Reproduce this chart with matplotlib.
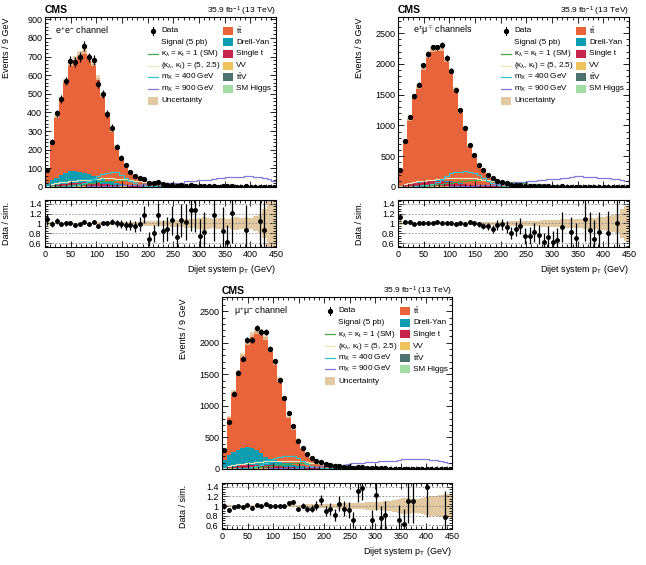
import numpy as np
import matplotlib.pyplot as plt
from matplotlib.lines import Line2D
from matplotlib.patches import Rectangle
from matplotlib.ticker import MultipleLocator, FixedLocator, FuncFormatter

plt.rcParams['font.family'] = ['Liberation Sans', 'DejaVu Sans']
plt.rcParams['mathtext.fontset'] = 'custom'
plt.rcParams['mathtext.rm'] = 'Liberation Sans'
plt.rcParams['mathtext.it'] = 'Liberation Sans:italic'
plt.rcParams['mathtext.bf'] = 'Liberation Sans:bold'

nan = np.nan
edges = np.arange(0, 451, 9)

# ---------------- e+e- channel ----------------
data_ee = [93, 244, 396, 470, 569, 676, 670, 699, 758, 695,
           681, 553, 499, 392, 319, 217, 157, 116, 82, 61,
           50, 45, 21, 20, 25, 14, 13, 13, 7, 10,
           8, 9, 8, 5, 4, 3, 5, 2, 3, 3,
           4, 2, 1, 3, 2, 1, 2, 1, 1, 1]
ratio_ee = [1.09, 0.99, 1.05, 0.99, 1.00, 1.02, 0.97, 0.98, 1.04, 0.99,
            1.03, 0.94, 1.01, 1.00, 1.04, 1.00, 0.99, 0.96, 0.97, 0.94,
            0.99, 1.18, 0.68, 0.80, 1.18, 0.84, 0.88, 1.07, 0.73, 1.07,
            1.03, 1.28, 1.28, 0.75, 0.82, nan, 1.18, nan, 0.85, 0.62,
            1.21, nan, nan, 0.87, nan, nan, 1.06, 0.86, nan, nan]
ttbar_ee = [66, 208, 327, 411, 495, 580, 605, 631, 655, 635,
            601, 537, 452, 358, 279, 196, 143, 108, 74, 56,
            44, 32, 26, 21, 17.7, 14.2, 12.5, 9.8, 8.0, 7.2,
            6.4, 5.5, 4.7, 4.8, 3.9, 4.0, 3.6, 3.2, 2.9, 2.6,
            2.4, 2.2, 2.0, 1.8, 1.7, 1.5, 1.4, 1.3, 1.2, 1.1]
dy_ee = [16, 30, 38, 48, 55, 62, 62, 58, 50, 44,
         38, 30, 24, 19, 15, 11, 8, 6, 5, 4,
         3, 2.5, 2, 1.6, 1.3, 1.1, 0.9, 0.8, 0.7, 0.6,
         0.5, 0.45, 0.4, 0.35, 0.3, 0.3, 0.25, 0.25, 0.2, 0.2,
         0.2, 0.15, 0.15, 0.15, 0.1, 0.1, 0.1, 0.1, 0.1, 0.1]
st_ee = [2, 5, 8, 11, 13, 15, 16, 17, 17, 16,
         15, 14, 12, 10, 8, 6.5, 5, 4, 3, 2.4,
         2, 1.6, 1.3, 1.1, 0.9, 0.8, 0.7, 0.6, 0.5, 0.45,
         0.4, 0.35, 0.3, 0.3, 0.25, 0.25, 0.2, 0.2, 0.2, 0.15,
         0.15, 0.15, 0.1, 0.1, 0.1, 0.1, 0.1, 0.1, 0.1, 0.1]
vv_ee = [1, 2, 3, 3.5, 4, 4.5, 5, 5, 5, 5,
         5, 4.5, 4, 3.5, 3, 2.6, 2.2, 1.9, 1.6, 1.4,
         1.2, 1, 0.9, 0.8, 0.7, 0.6, 0.55, 0.5, 0.45, 0.4,
         0.35, 0.3, 0.3, 0.25, 0.25, 0.2, 0.2, 0.2, 0.15, 0.15,
         0.15, 0.1, 0.1, 0.1, 0.1, 0.1, 0.1, 0.1, 0.1, 0.1]
ttv_ee = [0.3, 0.5, 0.8, 1, 1.2, 1.4, 1.5, 1.6, 1.7, 1.7,
          1.7, 1.6, 1.5, 1.4, 1.2, 1, 0.9, 0.8, 0.7, 0.6,
          0.5, 0.45, 0.4, 0.35, 0.3, 0.3, 0.25, 0.25, 0.2, 0.2,
          0.2, 0.15, 0.15, 0.15, 0.1, 0.1, 0.1, 0.1, 0.1, 0.1,
          0.1, 0.1, 0.1, 0.1, 0.1, 0.1, 0.1, 0.1, 0.1, 0.1]
higgs_ee = [0.1, 0.2, 0.3, 0.3, 0.4, 0.4, 0.5, 0.5, 0.5, 0.5,
            0.5, 0.5, 0.4, 0.4, 0.3, 0.3, 0.3, 0.2, 0.2, 0.2,
            0.2, 0.15, 0.15, 0.1, 0.1, 0.1, 0.1, 0.1, 0.1, 0.1,
            0.05, 0.05, 0.05, 0.05, 0.05, 0.05, 0.05, 0.05, 0.05, 0.05,
            0.05, 0.05, 0.05, 0.05, 0.05, 0.05, 0.05, 0.05, 0.05, 0.05]
unc_ee = [0.03, 0.025, 0.02, 0.02, 0.02, 0.02, 0.02, 0.02, 0.02, 0.02,
          0.02, 0.025, 0.025, 0.025, 0.03, 0.03, 0.03, 0.035, 0.035, 0.04,
          0.04, 0.045, 0.05, 0.05, 0.055, 0.06, 0.06, 0.07, 0.08, 0.08,
          0.09, 0.1, 0.1, 0.12, 0.14, 0.12, 0.1, 0.12, 0.11, 0.1,
          0.12, 0.13, 0.12, 0.14, 0.12, 0.15, 0.2, 0.3, 0.5, 0.6]
sm_ee = [0.5, 1.5, 3, 5, 7, 9, 12, 15, 18, 21,
         24, 27, 30, 32, 34, 35, 36, 36, 35, 34,
         33, 31, 29, 27, 25, 23, 21, 19, 17, 15,
         13, 12, 10, 9, 8, 7, 6, 5, 4.5, 4,
         3.5, 3, 2.6, 2.2, 1.9, 1.6, 1.4, 1.2, 1, 0.9]
k5_ee = [3, 14, 20, 25, 28, 31, 33, 35, 37, 40,
         43, 45, 46, 46, 46, 45, 44, 41, 37, 34,
         31, 28, 23, 19, 16, 13, 11, 9.5, 8, 7,
         6, 5, 4.3, 3.7, 3.1, 2.6, 2.2, 1.9, 1.6, 1.4,
         1.2, 1, 0.85, 0.7, 0.6, 0.5, 0.45, 0.4, 0.35, 0.3]
x400_ee = [0.3, 0.7, 1.5, 2.5, 4, 6, 9, 13, 19, 30,
           45, 60, 70, 76, 80, 78, 66, 50, 33, 20,
           12, 7, 4.5, 3, 2, 1.5, 1.1, 0.8, 0.6, 0.5,
           0.4, 0.3, 0.25, 0.2, 0.2, 0.15, 0.1, 0.1, 0.1, 0.1,
           0.1, 0.1, 0.1, 0.1, 0.1, 0.1, 0.1, 0.1, 0.1, 0.1]
x900_ee = [0, 0, 0.5, 0.5, 1, 1, 1.5, 2, 2.5, 3,
           3.5, 4, 5, 6, 7, 8, 9, 10, 11, 12,
           13, 14, 15, 16, 17, 18, 19, 20, 21, 22,
           30, 32, 33, 36, 38, 40, 42, 46, 50, 52,
           54, 56, 56, 58, 57, 55, 52, 48, 42, 30]

# ---------------- e+mu- channels ----------------
data_em = [281, 741, 1131, 1472, 1661, 1975, 2165, 2267, 2267, 2311,
           2094, 1889, 1569, 1245, 963, 687, 514, 363, 271, 189,
           141, 103, 78, 57, 40, 37, 33, 22, 19, 18,
           15, 10, 10, 8, 8, 9, 5, 7, 5, 4,
           6, 5, 3, 4, 2, 3, 2, 3, 1, 1]
ratio_em = [1.13, 1.04, 1.03, 0.99, 1.02, 1.02, 1.01, 1.01, 1.03, 1.01,
            1.01, 1.00, 0.99, 1.01, 0.99, 1.03, 1.00, 0.98, 0.95, 0.94,
            0.89, 0.97, 0.98, 0.92, 0.80, 0.89, 0.95, 0.75, 0.75, 0.82,
            0.77, 0.62, 0.72, 0.63, 0.67, 0.93, nan, 0.82, 0.70, nan,
            1.10, 0.86, 0.68, 0.82, nan, 0.80, nan, 1.01, nan, nan]
ttbar_em = [233, 667, 1034, 1406, 1539, 1835, 2035, 2134, 2150, 2150,
            1973, 1799, 1508, 1169, 921, 628, 482, 345, 265, 185,
            145, 96, 72, 55, 44, 37, 30.6, 25, 21.6, 19,
            16.3, 14, 12.3, 11, 9.8, 8.5, 7.6, 6.8, 6.1, 5.5,
            5.0, 4.5, 4.1, 3.7, 3.4, 3.1, 2.8, 2.6, 2.3, 2.1]
dy_em = [5, 12, 15, 17, 18, 18, 17, 16, 15, 13,
         12, 10, 8, 7, 6, 5, 4, 3, 2.5, 2,
         1.6, 1.3, 1, 0.8, 0.7, 0.6, 0.5, 0.45, 0.4, 0.35,
         0.3, 0.3, 0.25, 0.25, 0.2, 0.2, 0.2, 0.15, 0.15, 0.15,
         0.1, 0.1, 0.1, 0.1, 0.1, 0.1, 0.1, 0.1, 0.1, 0.1]
st_em = [8, 25, 38, 50, 56, 66, 73, 76, 75, 76,
         70, 64, 55, 44, 35, 25, 20, 15, 12, 9,
         7, 5, 4, 3.2, 2.6, 2.2, 1.8, 1.5, 1.3, 1.1,
         1, 0.9, 0.8, 0.7, 0.6, 0.5, 0.45, 0.4, 0.35, 0.3,
         0.3, 0.25, 0.25, 0.2, 0.2, 0.2, 0.15, 0.15, 0.15, 0.1]
vv_em = [2, 5, 7, 9, 10, 11, 12, 12, 12, 12,
         11, 10, 9, 8, 7, 6, 5, 4.3, 3.8, 3.3,
         2.9, 2.5, 2.2, 1.9, 1.7, 1.5, 1.3, 1.2, 1.1, 1,
         0.9, 0.8, 0.7, 0.65, 0.6, 0.55, 0.5, 0.45, 0.4, 0.4,
         0.35, 0.35, 0.3, 0.3, 0.25, 0.25, 0.2, 0.2, 0.2, 0.2]
ttv_em = [1, 2, 3, 3.5, 4, 4.5, 5, 5, 5, 5,
          5, 4.5, 4, 3.5, 3, 2.6, 2.2, 1.9, 1.6, 1.4,
          1.2, 1, 0.9, 0.8, 0.7, 0.6, 0.55, 0.5, 0.45, 0.4,
          0.35, 0.3, 0.3, 0.25, 0.25, 0.2, 0.2, 0.2, 0.15, 0.15,
          0.15, 0.1, 0.1, 0.1, 0.1, 0.1, 0.1, 0.1, 0.1, 0.1]
higgs_em = [0.3, 0.6, 1, 1.2, 1.3, 1.5, 1.6, 1.7, 1.7, 1.6,
            1.5, 1.4, 1.2, 1, 0.9, 0.8, 0.7, 0.6, 0.5, 0.45,
            0.4, 0.35, 0.3, 0.3, 0.25, 0.2, 0.2, 0.2, 0.15, 0.15,
            0.1, 0.1, 0.1, 0.1, 0.1, 0.1, 0.1, 0.1, 0.1, 0.1,
            0.1, 0.1, 0.1, 0.1, 0.1, 0.1, 0.1, 0.1, 0.1, 0.1]
unc_em = [0.03, 0.02, 0.02, 0.02, 0.02, 0.02, 0.02, 0.02, 0.02, 0.02,
          0.02, 0.02, 0.02, 0.025, 0.025, 0.025, 0.03, 0.03, 0.03, 0.03,
          0.035, 0.035, 0.04, 0.04, 0.045, 0.045, 0.05, 0.05, 0.055, 0.06,
          0.06, 0.065, 0.07, 0.08, 0.08, 0.09, 0.09, 0.1, 0.1, 0.1,
          0.11, 0.12, 0.12, 0.13, 0.14, 0.15, 0.18, 0.2, 0.3, 0.35]
sm_em = [1, 3, 6, 10, 15, 21, 28, 36, 44, 53,
         62, 72, 82, 92, 100, 106, 110, 112, 112, 110,
         106, 101, 95, 88, 81, 74, 67, 61, 55, 49,
         44, 39, 34, 30, 26, 23, 20, 17, 15, 13,
         11, 9.5, 8, 7, 6, 5, 4.3, 3.7, 3.2, 2.8]
k5_em = [10, 49, 70, 85, 95, 105, 112, 119, 128, 138,
         143, 145, 147, 148, 147, 146, 143, 135, 119, 108,
         100, 92, 75, 62, 54, 45, 38, 32, 27, 23,
         20, 17, 14.5, 12.5, 10.5, 9, 7.5, 6.5, 5.5, 4.7,
         4, 3.4, 2.9, 2.5, 2.1, 1.8, 1.5, 1.3, 1.1, 1.0]
x400_em = [1, 3, 6, 10, 16, 25, 38, 55, 85, 130,
           180, 220, 240, 250, 254, 248, 235, 200, 150, 100,
           62, 38, 24, 15, 10, 7, 5, 4, 3, 2,
           1.5, 1.2, 1, 0.8, 0.6, 0.5, 0.4, 0.3, 0.3, 0.2,
           0.2, 0.2, 0.1, 0.1, 0.1, 0.1, 0.1, 0.1, 0.1, 0.1]
x900_em = [0, 0.5, 1, 1.5, 2, 3, 4, 5, 6, 7,
           8, 10, 12, 14, 16, 19, 22, 26, 30, 35,
           40, 49, 55, 62, 70, 76, 82, 88, 95, 100,
           108, 115, 122, 130, 138, 145, 152, 165, 173, 173,
           165, 160, 155, 148, 146, 142, 138, 130, 115, 92]

# ---------------- mu+mu- channel ----------------
data_mm = [300, 746, 1196, 1525, 1746, 2050, 2045, 2234, 2170, 2174,
           1909, 1707, 1406, 1120, 880, 680, 442, 333, 230, 169,
           131, 111, 73, 62, 44, 47, 36, 29, 19, 30,
           28, 12, 11, 16, 9, 8, 4, 5, 5, 4,
           6, 6, 2, 3, 5, 2, 1, 4, 2, 1]
ratio_mm = [1.00, 0.91, 0.98, 0.99, 0.97, 1.02, 0.96, 1.02, 1.00, 1.04,
            1.01, 1.01, 0.99, 1.00, 1.06, 1.08, 0.94, 1.01, 0.94, 0.94,
            1.01, 1.13, 0.89, 0.94, 0.82, 1.05, 0.94, 0.92, 0.71, 1.32,
            1.38, nan, 0.71, 1.22, 0.75, 0.82, nan, nan, 0.71, 0.62,
            1.10, 1.10, nan, nan, 1.39, nan, nan, nan, 0.77, nan]
ttbar_mm = [150, 599, 946, 1240, 1470, 1662, 1800, 1890, 1917, 1895,
            1730, 1548, 1304, 1020, 740, 561, 415, 285, 210, 152,
            107, 80, 67, 54, 44, 37, 31, 26, 22, 18.7,
            16.3, 13.7, 12.1, 10.4, 9.1, 7.9, 7.1, 6.2, 5.5, 4.9,
            4.4, 3.9, 3.5, 3.2, 2.9, 2.6, 2.3, 2.0, 1.9, 1.7]
dy_mm = [140, 196, 236, 252, 274, 284, 261, 229, 183, 128,
         98, 87, 69, 61, 59, 45, 36, 30, 23, 18,
         14, 11, 9, 7, 5.5, 4.5, 3.6, 3, 2.5, 2,
         1.7, 1.5, 1.3, 1.1, 1, 0.9, 0.8, 0.7, 0.6, 0.55,
         0.5, 0.45, 0.4, 0.35, 0.3, 0.3, 0.25, 0.25, 0.2, 0.2]
st_mm = [5, 15, 25, 33, 40, 46, 50, 52, 51, 49,
         45, 40, 34, 27, 21, 16, 12, 9, 7, 5.5,
         4.5, 3.6, 3, 2.5, 2, 1.7, 1.4, 1.2, 1, 0.9,
         0.8, 0.7, 0.6, 0.55, 0.5, 0.45, 0.4, 0.35, 0.3, 0.3,
         0.25, 0.25, 0.2, 0.2, 0.2, 0.15, 0.15, 0.15, 0.1, 0.1]
vv_mm = [4, 7, 9, 10, 11, 12, 12, 12, 12, 11,
         10, 9, 8, 7, 6, 5, 4.3, 3.7, 3.2, 2.8,
         2.4, 2.1, 1.8, 1.6, 1.4, 1.2, 1.1, 1, 0.9, 0.8,
         0.7, 0.65, 0.6, 0.55, 0.5, 0.45, 0.4, 0.4, 0.35, 0.35,
         0.3, 0.3, 0.25, 0.25, 0.2, 0.2, 0.2, 0.2, 0.15, 0.15]
ttv_mm = [1, 2, 3, 3.5, 4, 4.5, 5, 5, 5, 5,
          5, 4.5, 4, 3.5, 3, 2.6, 2.2, 1.9, 1.6, 1.4,
          1.2, 1, 0.9, 0.8, 0.7, 0.6, 0.55, 0.5, 0.45, 0.4,
          0.35, 0.3, 0.3, 0.25, 0.25, 0.2, 0.2, 0.2, 0.15, 0.15,
          0.15, 0.1, 0.1, 0.1, 0.1, 0.1, 0.1, 0.1, 0.1, 0.1]
higgs_mm = [0.3, 0.6, 1, 1.2, 1.3, 1.5, 1.6, 1.7, 1.7, 1.6,
            1.5, 1.4, 1.2, 1, 0.9, 0.8, 0.7, 0.6, 0.5, 0.45,
            0.4, 0.35, 0.3, 0.3, 0.25, 0.2, 0.2, 0.2, 0.15, 0.15,
            0.1, 0.1, 0.1, 0.1, 0.1, 0.1, 0.1, 0.1, 0.1, 0.1,
            0.1, 0.1, 0.1, 0.1, 0.1, 0.1, 0.1, 0.1, 0.1, 0.1]
unc_mm = [0.03, 0.02, 0.02, 0.02, 0.02, 0.02, 0.02, 0.02, 0.02, 0.02,
          0.02, 0.025, 0.025, 0.025, 0.03, 0.03, 0.03, 0.03, 0.035, 0.035,
          0.04, 0.04, 0.045, 0.05, 0.05, 0.055, 0.06, 0.06, 0.065, 0.07,
          0.07, 0.08, 0.08, 0.09, 0.09, 0.1, 0.1, 0.12, 0.14, 0.16,
          0.16, 0.15, 0.15, 0.16, 0.18, 0.2, 0.2, 0.22, 0.25, 0.25]
sm_mm = [1, 3, 5, 8, 12, 17, 23, 30, 37, 45,
         53, 61, 69, 77, 84, 90, 95, 98, 100, 99,
         97, 93, 88, 82, 75, 68, 61, 55, 49, 44,
         39, 34, 30, 26, 23, 20, 17, 15, 13, 11,
         9.5, 8, 7, 6, 5, 4.3, 3.7, 3.2, 2.8, 2.4]
k5_mm = [8, 42, 62, 76, 86, 95, 102, 108, 116, 124,
         129, 131, 132, 133, 132, 131, 128, 120, 108, 98,
         90, 82, 68, 56, 48, 40, 34, 29, 24, 21,
         18, 15, 13, 11, 9, 8, 7, 6, 5, 4,
         3.5, 3, 2.5, 2, 1.8, 1.5, 1.3, 1.1, 1, 0.9]
x400_mm = [1, 2, 5, 8, 13, 20, 30, 45, 65, 100,
           140, 175, 195, 205, 205, 200, 170, 125, 85, 50,
           30, 18, 11, 7, 5, 4, 3, 2, 1.5, 1,
           0.8, 0.6, 0.5, 0.4, 0.3, 0.3, 0.2, 0.2, 0.2, 0.1,
           0.1, 0.1, 0.1, 0.1, 0.1, 0.1, 0.1, 0.1, 0.1, 0.1]
x900_mm = [0, 0.5, 1, 1.5, 2, 2.5, 3.5, 4.5, 5.5, 6.5,
           8, 9.5, 11, 13, 15, 17, 20, 23, 27, 31,
           36, 41, 47, 53, 58, 63, 70, 78, 88, 95,
           100, 106, 112, 118, 124, 126, 127, 128, 150, 153,
           156, 158, 158, 157, 152, 145, 135, 122, 108, 90]

# colours
c_ttbar, c_dy, c_st, c_vv, c_ttv, c_h = '#e9643a', '#0f9db1', '#c8234a', '#efc25d', '#4d7371', '#a2dca4'
c_unc = '#e3c9a2'
c_sm, c_k5, c_x400, c_x900 = '#46a84a', '#ebe7b8', '#38c5c9', '#7f7ad8'

W, H = 646, 565
fig = plt.figure(figsize=(W / 100, H / 100), dpi=100)


def frame(l, t, r, b):
    return [l / W, 1 - b / H, (r - l) / W, (b - t) / H]


def fx(x):
    return x / W


def fy(y):
    return 1 - y / H


def ratio_fmt(v, pos):
    return '1' if abs(v - 1) < 1e-6 else f'{v:.1f}'


def draw_legend(L, T):
    rows = [T + 14 + 11.67 * i for i in range(7)]
    fs = 5.9
    # column 1
    fig.add_artist(Line2D([fx(L + 108)] * 2, [fy(rows[0] - 4), fy(rows[0] + 4)], color='k', lw=0.8))
    fig.add_artist(Line2D([fx(L + 108)], [fy(rows[0])], marker='o', ms=2.8, color='k', lw=0))
    fig.text(fx(L + 116), fy(rows[0]), 'Data', fontsize=fs, va='center')
    fig.text(fx(L + 116), fy(rows[1]), 'Signal (5 pb)', fontsize=fs, va='center')
    sig_labels = [(c_sm, r'κ$_\mathregular{λ}$ = κ$_\mathregular{t}$ = 1 (SM)'),
                  (c_k5, r'(κ$_\mathregular{λ}$, κ$_\mathregular{t}$) = (5, 2.5)'),
                  (c_x400, r'm$_\mathregular{X}$ = 400 GeV'),
                  (c_x900, r'm$_\mathregular{X}$ = 900 GeV')]
    for i, (col, lab) in enumerate(sig_labels):
        y = rows[2 + i]
        fig.add_artist(Line2D([fx(L + 103), fx(L + 113)], [fy(y)] * 2, color=col, lw=0.9))
        fig.text(fx(L + 116), fy(y), lab, fontsize=fs, va='center')
    fig.add_artist(Rectangle((fx(L + 103), fy(rows[6] + 4)), 10 / W, 8 / H,
                             transform=fig.transFigure, color=c_unc, lw=0))
    fig.text(fx(L + 116), fy(rows[6]), 'Uncertainty', fontsize=fs, va='center')
    # column 2
    bkg_labels = [(c_ttbar, r'$\mathregular{t\bar{t}}$'), (c_dy, 'Drell-Yan'), (c_st, 'Single t'),
                  (c_vv, 'VV'), (c_ttv, r'$\mathregular{t\bar{t}}$V'), (c_h, 'SM Higgs')]
    for i, (col, lab) in enumerate(bkg_labels):
        y = rows[i]
        fig.add_artist(Rectangle((fx(L + 178), fy(y + 4)), 10 / W, 8 / H,
                                 transform=fig.transFigure, color=col, lw=0))
        fig.text(fx(L + 191), fy(y), lab, fontsize=fs, va='center')


def draw_channel(main_px, ratio_px, ymax, ymajor, yminor, chan_label, label_dx,
                 data, ratio, unc, stack, signals):
    L, T, R, B = main_px
    ax = fig.add_axes(frame(*main_px))
    rx = fig.add_axes(frame(*ratio_px))
    centers = edges[:-1] + 4.5
    data = np.array(data, float)
    ratio = np.array(ratio, float)
    unc = np.array(unc, float)

    base = np.zeros(len(centers))
    for vals, col in stack:
        top = base + np.array(vals, float)
        ax.stairs(top, edges, baseline=base, fill=True, color=col, lw=0)
        base = top
    mc = base
    ax.stairs(mc * (1 + unc), edges, baseline=mc * (1 - unc), fill=True, color=c_unc, alpha=0.8, lw=0)
    for vals, col in signals:
        ax.stairs(vals, edges, baseline=None, color=col, lw=0.9)
    m = data > 0
    ax.errorbar(centers[m], data[m], yerr=np.sqrt(data[m]), fmt='o', ms=2.8, color='k',
                elinewidth=0.9, capsize=0)

    ax.set_xlim(0, 450)
    ax.set_ylim(0, ymax)
    ax.xaxis.set_major_locator(MultipleLocator(50))
    ax.xaxis.set_minor_locator(MultipleLocator(10))
    ax.yaxis.set_major_locator(MultipleLocator(ymajor))
    ax.yaxis.set_minor_locator(MultipleLocator(yminor))
    ax.tick_params(which='both', direction='in', top=True, right=True, labelbottom=False,
                   labelsize=6.5, width=0.6, pad=2)
    ax.tick_params(which='major', length=4.5)
    ax.tick_params(which='minor', length=2.2)

    # ratio panel
    rx.stairs(1 + unc, edges, baseline=1 - unc, fill=True, color=c_unc, lw=0)
    for g in [0.6, 0.8, 1.0, 1.2, 1.4]:
        rx.axhline(g, color='#888888', lw=0.6, ls=(0, (2, 2)))
    mr = ~np.isnan(ratio) & (data > 0)
    rx.errorbar(centers[mr], ratio[mr], yerr=ratio[mr] / np.sqrt(data[mr]), fmt='o', ms=2.5,
                color='k', elinewidth=0.9, capsize=0)
    rx.set_xlim(0, 450)
    rx.set_ylim(0.52, 1.48)
    rx.xaxis.set_major_locator(MultipleLocator(50))
    rx.xaxis.set_minor_locator(MultipleLocator(10))
    rx.yaxis.set_major_locator(FixedLocator([0.6, 0.8, 1.0, 1.2, 1.4]))
    rx.yaxis.set_minor_locator(MultipleLocator(0.05))
    rx.yaxis.set_major_formatter(FuncFormatter(ratio_fmt))
    rx.tick_params(which='both', direction='in', top=True, right=True, labelsize=6.5, width=0.6, pad=2.5)
    rx.tick_params(which='major', length=4.5)
    rx.tick_params(which='minor', length=2.2)
    for a in (ax, rx):
        for s in a.spines.values():
            s.set_linewidth(0.8)

    rT, rB = ratio_px[1], ratio_px[3]
    fig.text(fx(L), fy(T - 6.5), 'CMS', fontsize=7.5, weight='bold', va='center')
    fig.text(fx(R), fy(T - 5.5), r'35.9 fb$^{-1}$ (13 TeV)', fontsize=6, ha='right', va='center')
    fig.text(fx(L - 38.5), fy(T + 1.5), 'Events / 9 GeV', fontsize=6.5, rotation=90, ha='center', va='top')
    fig.text(fx(L - 38.5), fy(rT + 2), 'Data / sim.', fontsize=6.5, rotation=90, ha='center', va='top')
    fig.text(fx(R), fy(rB + 22), r'Dijet system p$_\mathregular{T}$ (GeV)', fontsize=6.5, ha='right', va='center')
    fig.text(fx(L + label_dx), fy(T + 14), chan_label, fontsize=6.5, va='center')
    draw_legend(L, T)


def stack_of(ttbar, dy, st, vv, ttv, h):
    return [(h, c_h), (ttv, c_ttv), (vv, c_vv), (st, c_st), (dy, c_dy), (ttbar, c_ttbar)]


def signals_of(sm, k5, x400, x900):
    return [(sm, c_sm), (k5, c_k5), (x400, c_x400), (x900, c_x900)]


draw_channel((45, 16.5, 276, 187), (45, 200, 276, 247), 915, 100, 20,
             r'e$^{+}$e$^{-}$ channel', 10, data_ee, ratio_ee, unc_ee,
             stack_of(ttbar_ee, dy_ee, st_ee, vv_ee, ttv_ee, higgs_ee),
             signals_of(sm_ee, k5_ee, x400_ee, x900_ee))
draw_channel((398, 16.5, 629, 187), (398, 200, 629, 247), 2770, 500, 100,
             r'e$^{\pm}$μ$^{\mp}$ channels', 15, data_em, ratio_em, unc_em,
             stack_of(ttbar_em, dy_em, st_em, vv_em, ttv_em, higgs_em),
             signals_of(sm_em, k5_em, x400_em, x900_em))
draw_channel((222, 297, 452, 469), (222, 483, 452, 529), 2726, 500, 100,
             r'μ$^{+}$μ$^{-}$ channel', 12, data_mm, ratio_mm, unc_mm,
             stack_of(ttbar_mm, dy_mm, st_mm, vv_mm, ttv_mm, higgs_mm),
             signals_of(sm_mm, k5_mm, x400_mm, x900_mm))

fig.savefig('out.png', dpi=100)
